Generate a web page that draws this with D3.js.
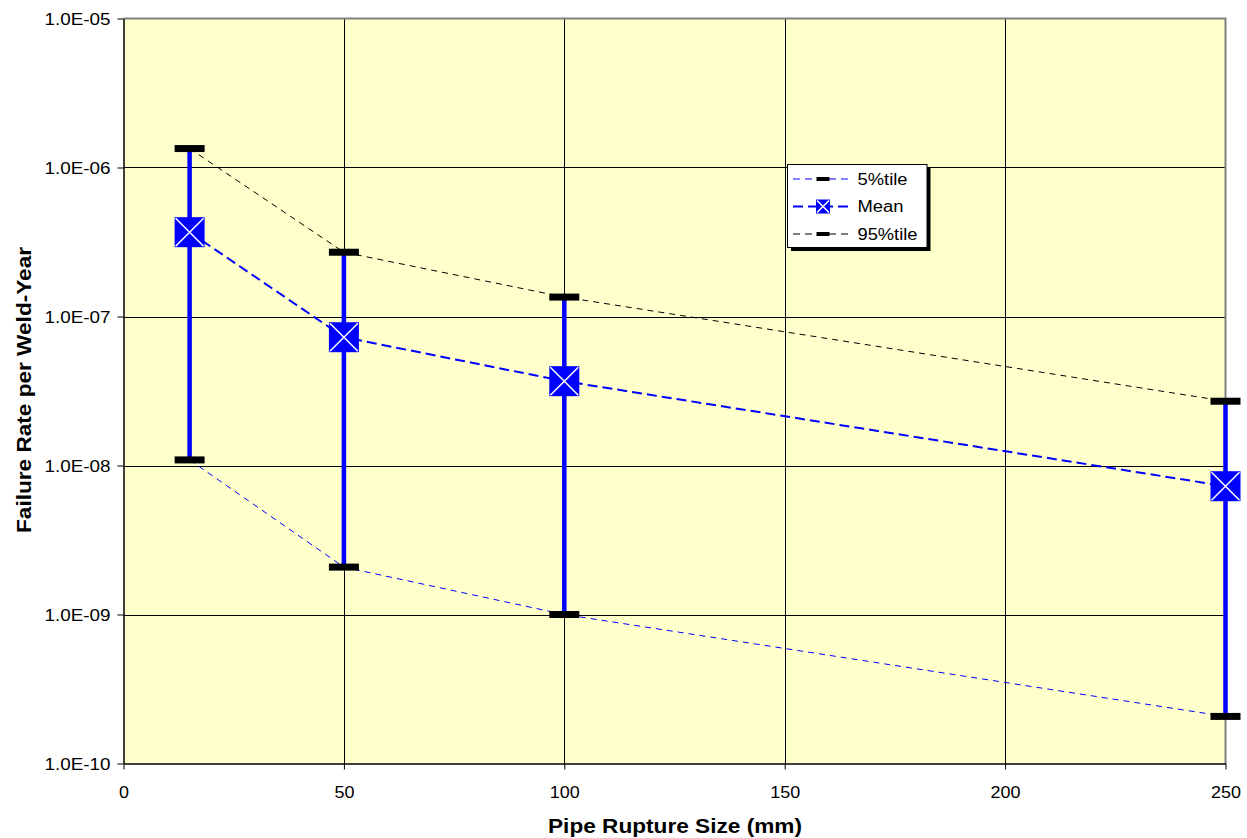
<!DOCTYPE html>
<html>
<head>
<meta charset="utf-8">
<script src="https://cdn.jsdelivr.net/npm/d3@7"></script>
<style>
  body { margin: 0; background: #fff; }
  text { font-family: Arial, "Liberation Sans", sans-serif; fill: #000; }
</style>
</head>
<body>
<svg id="chart" width="1247" height="838"></svg>
<script>
// ---- data ----
const sizes = [15, 50, 100, 250];
const p95 = [1.34e-6, 2.7e-7, 1.35e-7, 2.7e-8];
const meanVals = [3.68e-7, 7.26e-8, 3.68e-8, 7.26e-9];
const p5 = [1.09e-8, 2.08e-9, 1.0e-9, 2.07e-10];
const xTicks = [0, 50, 100, 150, 200, 250];
const yTicks = [1e-10, 1e-9, 1e-8, 1e-7, 1e-6, 1e-5];
const yTickLabels = ["1.0E-10", "1.0E-09", "1.0E-08", "1.0E-07", "1.0E-06", "1.0E-05"];
const legendLabels = ["5%tile", "Mean", "95%tile"];
const xTitle = "Pipe Rupture Size (mm)";
const yTitle = "Failure Rate per Weld-Year";

// ---- layout ----
const L = 123.5, R = 1225.5, T = 18.5, B = 763.5;
const svg = d3.select("#chart");
const x = d3.scaleLinear().domain([0, 250]).range([L, R]);
const y = d3.scaleLog().domain([1e-10, 1e-5]).range([B, T]);

// plot background
svg.append("rect").attr("x", L).attr("y", T).attr("width", R - L).attr("height", B - T)
  .attr("fill", "#FFFFCC");

// gridlines
svg.append("g").selectAll("line").data(xTicks.filter(d => d > 0 && d < 250)).join("line")
  .attr("x1", d => Math.round(x(d)) + 0.5).attr("x2", d => Math.round(x(d)) + 0.5)
  .attr("y1", T).attr("y2", B).attr("stroke", "#000").attr("stroke-width", 1);
svg.append("g").selectAll("line").data(yTicks.filter(d => d > 1e-10 && d < 1e-5)).join("line")
  .attr("x1", L).attr("x2", R)
  .attr("y1", d => Math.round(y(d)) + 0.5).attr("y2", d => Math.round(y(d)) + 0.5)
  .attr("stroke", "#000").attr("stroke-width", 1);

// top/right border (gray)
svg.append("path").attr("d", `M${L},${T}H${R}V${B}`).attr("fill", "none")
  .attr("stroke", "#808080").attr("stroke-width", 2);

// axes
const fmt = d => yTickLabels[yTicks.findIndex(t => Math.abs(Math.log10(t) - Math.log10(d)) < 1e-6)];
const yAxis = svg.append("g").attr("transform", `translate(${L},0)`)
  .call(d3.axisLeft(y).tickValues(yTicks).tickFormat(fmt).tickSize(6).tickPadding(7).tickSizeOuter(0));
yAxis.selectAll("text").attr("font-size", 16).attr("dy", "0.36em")
  .attr("textLength", 66).attr("lengthAdjust", "spacingAndGlyphs")
  .style("font-family", 'Arial, "Liberation Sans", sans-serif');
const xAxis = svg.append("g").attr("transform", `translate(0,${B})`)
  .call(d3.axisBottom(x).tickValues(xTicks).tickFormat(d3.format("d")).tickSize(6).tickPadding(7).tickSizeOuter(0));
xAxis.selectAll("text").attr("font-size", 17).attr("y", 34).attr("dy", 0)
  .style("font-family", 'Arial, "Liberation Sans", sans-serif')
  .each(function(d) {
    const n = String(d).length;
    d3.select(this).attr("textLength", n * 10).attr("lengthAdjust", "spacingAndGlyphs");
  });
svg.selectAll(".domain").attr("stroke", "#000").attr("stroke-width", 1.5);
svg.selectAll(".tick line").attr("stroke", "#000");

// axis titles
svg.append("text").attr("x", 675).attr("y", 832.5).attr("text-anchor", "middle")
  .attr("font-size", 20).attr("font-weight", "bold")
  .attr("textLength", 254).attr("lengthAdjust", "spacingAndGlyphs").text(xTitle);
svg.append("text").attr("transform", "translate(31,390) rotate(-90)").attr("text-anchor", "middle")
  .attr("font-size", 20).attr("font-weight", "bold")
  .attr("textLength", 286).attr("lengthAdjust", "spacingAndGlyphs").text(yTitle);

// series lines
const pts = vals => sizes.map((s, i) => [x(s), y(vals[i])]);
const line = d3.line();
svg.append("path").attr("d", line(pts(p95))).attr("fill", "none")
  .attr("stroke", "#000").attr("stroke-width", 1).attr("stroke-dasharray", "6,5");
svg.append("path").attr("d", line(pts(p5))).attr("fill", "none")
  .attr("stroke", "#0000FF").attr("stroke-width", 1).attr("stroke-dasharray", "6,5");
svg.append("path").attr("d", line(pts(meanVals))).attr("fill", "none")
  .attr("stroke", "#0000FF").attr("stroke-width", 2).attr("stroke-dasharray", "10,5");

// error bars
svg.append("g").selectAll("line").data(sizes).join("line")
  .attr("x1", d => x(d)).attr("x2", d => x(d))
  .attr("y1", (d, i) => y(p5[i])).attr("y2", (d, i) => y(p95[i]))
  .attr("stroke", "#0000FF").attr("stroke-width", 4.5);

// percentile markers
function dash(g, cx, cy, w, h) {
  g.append("rect").attr("x", cx - w / 2).attr("y", cy - h / 2).attr("width", w).attr("height", h).attr("fill", "#000");
}
function xbox(g, cx, cy, s) {
  g.append("rect").attr("x", cx - s / 2).attr("y", cy - s / 2).attr("width", s).attr("height", s).attr("fill", "#0000FF");
  const h = s / 2 - 1;
  g.append("path").attr("d", `M${cx - h},${cy - h}L${cx + h},${cy + h}M${cx + h},${cy - h}L${cx - h},${cy + h}`)
    .attr("stroke", "#fff").attr("stroke-width", 1.5);
}
const mk = svg.append("g");
sizes.forEach((s, i) => {
  dash(mk, x(s), y(p95[i]), 30, 7);
  dash(mk, x(s), y(p5[i]), 30, 7);
  xbox(mk, x(s), y(meanVals[i]), 30);
});

// legend
const lg = svg.append("g");
lg.append("rect").attr("x", 791).attr("y", 168).attr("width", 139.5).attr("height", 83).attr("fill", "#000");
lg.append("rect").attr("x", 787.5).attr("y", 164.5).attr("width", 139.5).attr("height", 83)
  .attr("fill", "#fff").attr("stroke", "#000").attr("stroke-width", 1);
const rowsY = [179, 206.5, 234];
const legendStyles = [
  { stroke: "#0000FF", w: 1, dash: "7,5" },
  { stroke: "#0000FF", w: 2, dash: "10,5" },
  { stroke: "#000", w: 1, dash: "7,5" }
];
const textLens = [50, 46, 60];
legendLabels.forEach((lab, i) => {
  const cy = rowsY[i];
  lg.append("line").attr("x1", 793).attr("x2", 848).attr("y1", cy).attr("y2", cy)
    .attr("stroke", legendStyles[i].stroke).attr("stroke-width", legendStyles[i].w)
    .attr("stroke-dasharray", legendStyles[i].dash);
  if (i === 1) xbox(lg, 823, cy, 14);
  else dash(lg, 823, cy, 13, 4);
  lg.append("text").attr("x", 857.5).attr("y", cy + 5.8).attr("font-size", 16)
    .attr("textLength", textLens[i]).attr("lengthAdjust", "spacingAndGlyphs").text(lab);
});
</script>
</body>
</html>
